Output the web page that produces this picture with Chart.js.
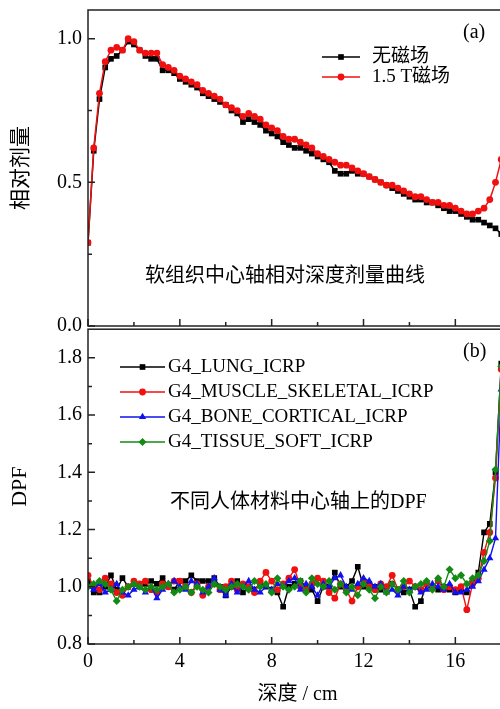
<!DOCTYPE html>
<html>
<head>
<meta charset="utf-8">
<script src="https://cdn.jsdelivr.net/npm/chart.js@4.4.0/dist/chart.umd.min.js"></script>
<style>
  html, body { margin: 0; padding: 0; background: #fff; overflow: hidden; }
  #wrap { position: relative; width: 500px; height: 709px; overflow: hidden; background: #fff; }
  #topChart { position: absolute; left: 0; top: 0; width: 520px; height: 340px; z-index: 2; }
  #bottomChart { position: absolute; left: 0; top: 325px; width: 520px; height: 384px; z-index: 1; }
</style>
</head>
<body>
<div id="wrap">
  <canvas id="topChart" width="520" height="340"></canvas>
  <canvas id="bottomChart" width="520" height="384"></canvas>
</div>
<script>
// depth along the central axis, cm
const depth = [
  0, 0.25, 0.5, 0.75, 1, 1.25, 1.5, 1.75,
  2, 2.25, 2.5, 2.75, 3, 3.25, 3.5, 3.75,
  4, 4.25, 4.5, 4.75, 5, 5.25, 5.5, 5.75,
  6, 6.25, 6.5, 6.75, 7, 7.25, 7.5, 7.75,
  8, 8.25, 8.5, 8.75, 9, 9.25, 9.5, 9.75,
  10, 10.25, 10.5, 10.75, 11, 11.25, 11.5, 11.75,
  12, 12.25, 12.5, 12.75, 13, 13.25, 13.5, 13.75,
  14, 14.25, 14.5, 14.75, 15, 15.25, 15.5, 15.75,
  16, 16.25, 16.5, 16.75, 17, 17.25, 17.5, 17.75,
  18,
];

// (a) relative depth dose
const doseNoField = [
  0.29, 0.61, 0.79, 0.90, 0.93, 0.94, 0.96, 0.99,
  0.98, 0.96, 0.94, 0.93, 0.93, 0.89, 0.89, 0.88,
  0.86, 0.85, 0.84, 0.83, 0.81, 0.80, 0.79, 0.78,
  0.77, 0.75, 0.74, 0.71, 0.72, 0.71, 0.70, 0.68,
  0.67, 0.66, 0.64, 0.63, 0.62, 0.62, 0.61, 0.60,
  0.59, 0.58, 0.57, 0.54, 0.53, 0.53, 0.54, 0.53,
  0.53, 0.52, 0.51, 0.50, 0.49, 0.48, 0.47, 0.46,
  0.45, 0.44, 0.44, 0.43, 0.43, 0.42, 0.41, 0.40,
  0.40, 0.39, 0.38, 0.37, 0.37, 0.36, 0.35, 0.34,
  0.32,
];
const doseField15T = [
  0.29, 0.62, 0.81, 0.92, 0.96, 0.97, 0.96, 1.00,
  0.99, 0.96, 0.95, 0.95, 0.95, 0.91, 0.90, 0.89,
  0.87, 0.86, 0.85, 0.84, 0.82, 0.81, 0.80, 0.79,
  0.77, 0.76, 0.75, 0.73, 0.74, 0.73, 0.72, 0.70,
  0.69, 0.68, 0.66, 0.65, 0.65, 0.64, 0.63, 0.62,
  0.60, 0.59, 0.58, 0.57, 0.56, 0.56, 0.55, 0.54,
  0.53, 0.52, 0.51, 0.50, 0.49, 0.49, 0.48, 0.47,
  0.46, 0.45, 0.45, 0.44, 0.43, 0.43, 0.42, 0.42,
  0.41, 0.40, 0.39, 0.39, 0.40, 0.41, 0.44, 0.50,
  0.58,
];

// (b) DPF for different materials
const dpfLung = [
  1.02, 0.98, 0.98, 1.00, 1.04, 0.99, 1.03, 1.00,
  1.01, 1.00, 1.01, 1.02, 1.01, 1.03, 1.00, 0.99,
  1.02, 1.02, 1.04, 1.02, 1.02, 1.02, 1.03, 1.00,
  0.97, 1.00, 1.02, 0.98, 1.00, 0.99, 1.01, 1.00,
  0.99, 0.98, 0.93, 1.00, 1.01, 1.02, 1.00, 0.99,
  0.95, 1.00, 1.00, 1.05, 1.00, 1.00, 1.02, 1.07,
  1.00, 1.01, 1.00, 0.99, 1.00, 1.01, 0.99, 0.98,
  0.99, 0.93, 0.95, 1.01, 1.00, 0.99, 1.00, 0.99,
  0.98, 0.99, 0.98, 1.02, 1.05, 1.19, 1.22, 1.40,
  1.78,
];
const dpfMuscle = [
  1.04, 1.00, 0.99, 1.03, 1.01, 0.98, 0.97, 1.00,
  1.02, 1.01, 1.02, 0.99, 0.98, 1.01, 1.00, 1.02,
  1.02, 1.00, 0.98, 1.01, 0.97, 1.00, 1.01, 0.99,
  1.00, 1.02, 0.99, 1.01, 1.00, 0.98, 1.02, 1.05,
  1.02, 0.99, 1.01, 1.03, 1.06, 1.00, 0.99, 1.01,
  1.03, 1.02, 0.98, 0.96, 1.01, 0.99, 0.95, 1.00,
  1.02, 1.00, 0.99, 1.01, 1.00, 1.04, 0.99, 1.00,
  1.02, 1.00, 0.99, 1.01, 1.00, 1.02, 0.99, 1.00,
  0.99, 1.00, 0.92, 1.01, 1.03, 1.12, 1.19, 1.38,
  1.76,
];
const dpfBone = [
  1.00, 0.99, 1.01, 0.98, 0.99, 1.01, 0.98, 0.97,
  0.99, 1.00, 0.98, 1.00, 0.96, 0.99, 1.01, 1.02,
  1.00, 0.99, 1.02, 1.01, 0.98, 1.00, 1.03, 0.99,
  0.97, 1.01, 0.98, 1.00, 1.02, 0.99, 0.98, 1.00,
  0.99, 1.01, 1.00, 1.02, 1.03, 0.99, 1.01, 1.00,
  0.97, 1.01, 1.00, 1.03, 1.04, 1.00, 0.99, 1.01,
  1.03, 1.02, 1.00, 1.01, 0.98, 0.99, 0.97, 1.00,
  0.99, 1.00, 0.98, 0.99, 1.01, 1.00, 0.99, 1.01,
  0.98, 0.98, 0.99, 1.00, 1.02, 1.06, 1.10, 1.17,
  1.69,
];
const dpfSoft = [
  1.00, 1.01, 1.02, 1.01, 0.99, 0.95, 0.99, 1.00,
  1.01, 1.00, 0.99, 1.00, 0.99, 1.00, 1.01, 0.98,
  0.99, 1.00, 0.98, 1.00, 0.99, 0.98, 1.01, 1.00,
  0.99, 1.00, 1.01, 1.00, 0.99, 1.02, 1.00, 1.01,
  0.98, 1.03, 1.00, 0.99, 1.00, 1.02, 0.98, 1.03,
  1.01, 1.00, 1.02, 0.99, 1.01, 0.98, 1.00, 0.97,
  1.01, 0.99, 0.96, 1.00, 0.98, 1.01, 0.99, 1.02,
  0.98, 1.00, 1.01, 1.02, 0.99, 1.03, 1.00, 1.06,
  1.03, 1.04, 1.01, 1.03, 1.04, 1.09, 1.16, 1.41,
  1.77,
];

const topLabels = ["无磁场", "1.5 T磁场"];
const bottomLabels = [
  "G4_LUNG_ICRP",
  "G4_MUSCLE_SKELETAL_ICRP",
  "G4_BONE_CORTICAL_ICRP",
  "G4_TISSUE_SOFT_ICRP",
];

const xMajorTicks = [0, 4, 8, 12, 16];
const xMinorTicks = [2, 6, 10, 14, 18];
const topYMajorTicks = [0, 0.5, 1.0];
const topYMinorTicks = [0.25, 0.75];
const bottomYMajorTicks = [0.8, 1.0, 1.2, 1.4, 1.6, 1.8];
const bottomYMinorTicks = [0.9, 1.1, 1.3, 1.5, 1.7];

const FONT = '"Liberation Serif", "Noto Sans CJK SC", serif';
Chart.defaults.font.family = FONT;
Chart.defaults.color = "#000";

function toPoints(values) {
  return depth.map((d, i) => ({ x: d, y: values[i] }));
}

function drawMarker(ctx, style, x, y, r, color) {
  ctx.fillStyle = color;
  ctx.beginPath();
  if (style === "rect") {
    const s = r * Math.SQRT1_2;
    ctx.rect(x - s, y - s, 2 * s, 2 * s);
  } else if (style === "circle") {
    ctx.arc(x, y, r, 0, Math.PI * 2);
  } else if (style === "triangle") {
    ctx.moveTo(x, y - r);
    ctx.lineTo(x + r * 0.866, y + r * 0.5);
    ctx.lineTo(x - r * 0.866, y + r * 0.5);
  } else if (style === "rectRot") {
    ctx.moveTo(x, y - r);
    ctx.lineTo(x + r, y);
    ctx.lineTo(x, y + r);
    ctx.lineTo(x - r, y);
  }
  ctx.closePath();
  ctx.fill();
}

// box frame and inward Origin-style ticks
const framePlugin = {
  id: "frame",
  afterDraw(chart, args, opts) {
    const { ctx, chartArea: a, scales } = chart;
    ctx.save();
    ctx.strokeStyle = "#222";
    ctx.lineWidth = 1.5;
    ctx.strokeRect(a.left, a.top, a.right - a.left, a.bottom - a.top);
    ctx.beginPath();
    const xTick = (v, len) => {
      const px = scales.x.getPixelForValue(v);
      ctx.moveTo(px, a.bottom);
      ctx.lineTo(px, a.bottom - len);
    };
    const yTick = (v, len) => {
      const py = scales.y.getPixelForValue(v);
      ctx.moveTo(a.left, py);
      ctx.lineTo(a.left + len, py);
    };
    opts.xMajor.forEach((v) => xTick(v, 7));
    opts.xMinor.forEach((v) => xTick(v, 4));
    opts.yMajor.forEach((v) => yTick(v, 7));
    opts.yMinor.forEach((v) => yTick(v, 4));
    ctx.stroke();
    ctx.restore();
  },
};

// legend, panel tag and caption drawn inside the plot
const notesPlugin = {
  id: "notes",
  afterDraw(chart, args, opts) {
    const { ctx } = chart;
    ctx.save();
    ctx.textBaseline = "middle";
    ctx.textAlign = "left";
    ctx.fillStyle = "#000";

    const lg = opts.legend;
    ctx.font = `${lg.size}px ${FONT}`;
    chart.data.datasets.forEach((ds, i) => {
      const y = lg.y + i * lg.step;
      ctx.strokeStyle = ds.borderColor;
      ctx.lineWidth = ds.borderWidth;
      ctx.beginPath();
      ctx.moveTo(lg.x1, y);
      ctx.lineTo(lg.x2, y);
      ctx.stroke();
      drawMarker(ctx, ds.pointStyle, (lg.x1 + lg.x2) / 2, y, ds.pointRadius, ds.borderColor);
      ctx.fillStyle = "#000";
      ctx.fillText(ds.label, lg.textX, y);
    });

    ctx.font = `20px ${FONT}`;
    ctx.fillText(opts.tag.text, opts.tag.x, opts.tag.y);
    ctx.fillText(opts.caption.text, opts.caption.x, opts.caption.y);
    ctx.restore();
  },
};

function yTickScale(min, max, major, titleText, titleSize, titlePad) {
  return {
    type: "linear",
    min: min,
    max: max,
    afterBuildTicks: (s) => {
      s.ticks = major.map((v) => ({ value: v }));
    },
    ticks: {
      font: { size: 20 },
      padding: 6,
      callback: (v) => Number(v).toFixed(1),
    },
    grid: { display: false, drawTicks: false },
    border: { display: false },
    title: {
      display: true,
      text: titleText,
      font: { size: titleSize },
      padding: { top: titlePad, bottom: 0 },
    },
    afterFit: (s) => {
      s.width = 88;
      s.paddingTop = 0;
      s.paddingBottom = 0;
    },
  };
}

new Chart(document.getElementById("topChart"), {
  type: "line",
  data: {
    datasets: [
      {
        label: topLabels[0],
        data: toPoints(doseNoField),
        borderColor: "#000000",
        backgroundColor: "#000000",
        borderWidth: 1.5,
        pointStyle: "rect",
        pointRadius: 4,
        pointBorderWidth: 0,
        order: 2,
      },
      {
        label: topLabels[1],
        data: toPoints(doseField15T),
        borderColor: "#f01010",
        backgroundColor: "#f01010",
        borderWidth: 1.5,
        pointStyle: "circle",
        pointRadius: 3.4,
        pointBorderWidth: 0,
        order: 1,
      },
    ],
  },
  options: {
    responsive: false,
    animation: false,
    layout: { padding: { top: 10, right: 13, bottom: 0, left: 0 } },
    plugins: {
      legend: { display: false },
      tooltip: { enabled: false },
      frame: {
        xMajor: xMajorTicks,
        xMinor: xMinorTicks,
        yMajor: topYMajorTicks,
        yMinor: topYMinorTicks,
      },
      notes: {
        legend: { x1: 322, x2: 360, textX: 372, y: 57, step: 20, size: 19 },
        tag: { text: "(a)", x: 463, y: 33 },
        caption: { text: "软组织中心轴相对深度剂量曲线", x: 145, y: 277 },
      },
    },
    scales: {
      x: {
        type: "linear",
        min: 0,
        max: 18.25,
        ticks: { display: false },
        grid: { display: false, drawTicks: false },
        border: { display: false },
        afterFit: (s) => {
          s.height = 14;
          s.paddingLeft = 0;
          s.paddingRight = 0;
        },
      },
      y: yTickScale(0, 1.1, topYMajorTicks, "相对剂量", 21, 9),
    },
  },
  plugins: [framePlugin, notesPlugin],
});

const bottomStyles = [
  { color: "#000000", shape: "rect", r: 4, order: 4 },
  { color: "#f01010", shape: "circle", r: 3.4, order: 3 },
  { color: "#1010f0", shape: "triangle", r: 4.2, order: 2 },
  { color: "#138a13", shape: "rectRot", r: 4, order: 1 },
];
const bottomSeries = [dpfLung, dpfMuscle, dpfBone, dpfSoft];

new Chart(document.getElementById("bottomChart"), {
  type: "line",
  data: {
    datasets: bottomSeries.map((values, i) => ({
      label: bottomLabels[i],
      data: toPoints(values),
      borderColor: bottomStyles[i].color,
      backgroundColor: bottomStyles[i].color,
      borderWidth: 1.4,
      pointStyle: bottomStyles[i].shape,
      pointRadius: bottomStyles[i].r,
      pointBorderWidth: 0,
      order: bottomStyles[i].order,
    })),
  },
  options: {
    responsive: false,
    animation: false,
    layout: { padding: { top: 1, right: 13, bottom: 0, left: 0 } },
    plugins: {
      legend: { display: false },
      tooltip: { enabled: false },
      frame: {
        xMajor: xMajorTicks,
        xMinor: xMinorTicks,
        yMajor: bottomYMajorTicks,
        yMinor: bottomYMinorTicks,
      },
      notes: {
        legend: { x1: 120, x2: 165, textX: 168, y: 42, step: 25, size: 19 },
        tag: { text: "(b)", x: 463, y: 27 },
        caption: { text: "不同人体材料中心轴上的DPF", x: 170, y: 178 },
      },
    },
    scales: {
      x: {
        type: "linear",
        min: 0,
        max: 18.25,
        afterBuildTicks: (s) => {
          s.ticks = xMajorTicks.map((v) => ({ value: v }));
        },
        ticks: { font: { size: 20 }, padding: 6, maxRotation: 0 },
        grid: { display: false, drawTicks: false },
        border: { display: false },
        title: {
          display: true,
          text: "深度 / cm",
          font: { size: 20 },
          padding: { top: 0, bottom: 2 },
        },
        afterFit: (s) => {
          s.height = 65;
          s.paddingLeft = 0;
          s.paddingRight = 0;
        },
      },
      y: yTickScale(0.8, 1.9, bottomYMajorTicks, "DPF", 22, 7),
    },
  },
  plugins: [framePlugin, notesPlugin],
});
</script>
</body>
</html>
